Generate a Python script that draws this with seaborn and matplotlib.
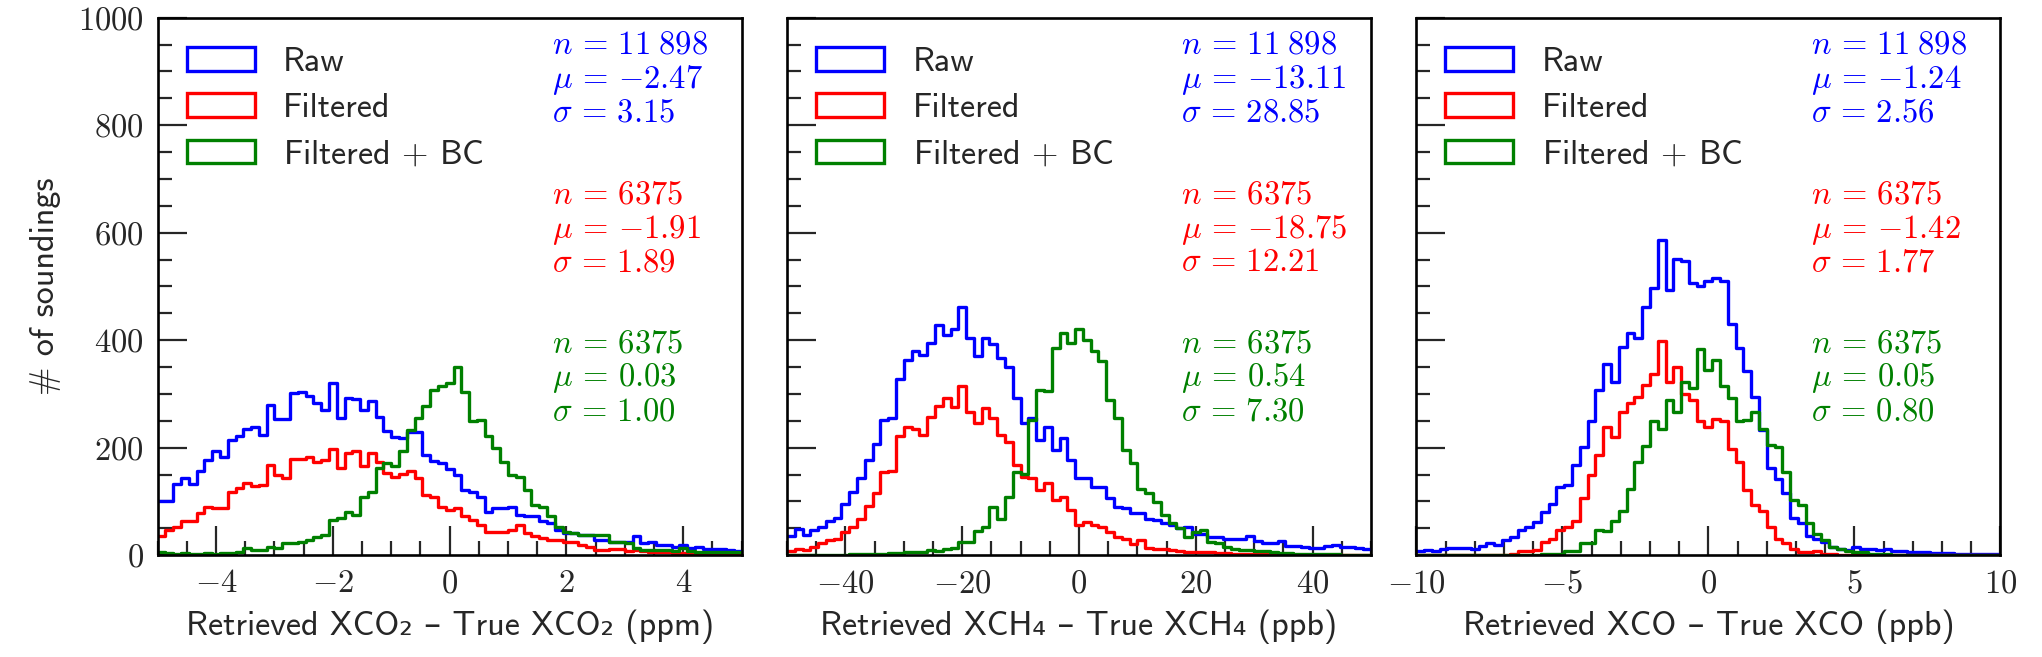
import numpy as np
import matplotlib
matplotlib.use("Agg")
import matplotlib.pyplot as plt
import seaborn as sns
from matplotlib.patches import Patch
from matplotlib.ticker import MultipleLocator, FuncFormatter

# ---------------- data (bin counts) ----------------
n_bins = 75
ranges = [(-5, 5), (-50, 50), (-10, 10)]
series_labels = ["Raw", "Filtered", "Filtered $+$ BC"]
series_colors = ["blue", "red", "green"]
xlabels = ["Retrieved XCO\u2082 \u2013 True XCO\u2082 (ppm)",
           "Retrieved XCH\u2084 \u2013 True XCH\u2084 (ppb)",
           "Retrieved XCO \u2013 True XCO (ppb)"]

xco2_raw = [100, 100, 133, 143, 133, 156, 177, 193, 183, 214, 222, 234, 239, 224, 280,
            253, 253, 302, 304, 296, 284, 271, 320, 255, 293, 291, 270, 286, 258, 231,
            219, 218, 230, 230, 187, 176, 171, 160, 149, 121, 118, 109, 81, 87, 87,
            90, 75, 72, 72, 63, 59, 47, 41, 41, 38, 38, 29, 29, 25, 25,
            25, 35, 22, 24, 19, 19, 16, 19, 13, 15, 11, 11, 11, 9, 7]
xco2_filt = [35, 47, 53, 63, 63, 78, 90, 87, 87, 118, 125, 134, 128, 131, 168,
             149, 143, 179, 179, 183, 174, 177, 197, 162, 190, 193, 165, 190, 174, 153,
             146, 151, 156, 143, 112, 109, 90, 84, 87, 72, 66, 56, 44, 44, 44,
             47, 56, 41, 35, 32, 29, 29, 25, 25, 19, 16, 10, 10, 11, 11,
             7, 10, 7, 6, 5, 5, 4, 4, 3, 3, 3, 2, 2, 2, 2]
xco2_bc = [5, 4, 3, 4, 2, 2, 4, 3, 4, 4, 5, 13, 9, 9, 16,
           13, 22, 22, 24, 29, 33, 38, 66, 70, 81, 75, 109, 118, 162, 171,
           165, 193, 233, 255, 277, 308, 315, 321, 351, 304, 249, 252, 221, 199, 174,
           149, 146, 121, 94, 90, 72, 53, 44, 41, 38, 38, 38, 38, 25, 24,
           22, 13, 10, 10, 10, 10, 7, 13, 7, 6, 6, 5, 5, 5, 5]

xch4_raw = [35, 48, 37, 47, 53, 63, 70, 96, 118, 144, 177, 207, 252, 256, 328,
            363, 379, 373, 395, 429, 410, 420, 462, 404, 370, 404, 392, 367, 351, 292,
            246, 255, 215, 239, 196, 218, 177, 143, 143, 127, 127, 106, 90, 87, 78,
            79, 68, 65, 59, 56, 50, 52, 40, 40, 34, 34, 31, 31, 31, 35,
            27, 22, 22, 27, 17, 17, 16, 14, 14, 17, 19, 16, 16, 14, 12]
xch4_filt = [7, 11, 10, 16, 23, 29, 31, 44, 53, 67, 91, 115, 154, 157, 221,
             239, 234, 223, 258, 277, 292, 276, 314, 267, 246, 274, 255, 224, 211, 168,
             146, 143, 121, 134, 103, 109, 84, 56, 62, 56, 53, 44, 34, 31, 21,
             28, 14, 12, 11, 9, 7, 6, 6, 5, 5, 4, 4, 3, 3, 3,
             2, 2, 2, 2, 2, 1, 1, 1, 1, 1, 1, 1, 1, 1, 1]
xch4_bc = [1, 1, 1, 1, 1, 1, 1, 1, 2, 3, 2, 2, 3, 4, 4,
           5, 6, 6, 9, 7, 11, 14, 25, 25, 45, 52, 89, 67, 108, 155,
           151, 252, 308, 305, 386, 414, 395, 421, 401, 379, 361, 289, 255, 196, 171,
           124, 115, 99, 75, 59, 50, 34, 44, 47, 25, 22, 16, 12, 9, 9,
           8, 8, 5, 4, 4, 3, 3, 2, 2, 2, 2, 1, 1, 1, 1]

xco_raw = [7, 9, 7, 11, 14, 14, 14, 11, 17, 22, 19, 28, 34, 47, 53,
           62, 81, 96, 127, 131, 167, 202, 249, 308, 356, 323, 387, 414, 404, 461,
           498, 586, 494, 552, 547, 507, 501, 510, 515, 510, 430, 386, 343, 294, 233,
           162, 142, 115, 70, 59, 36, 31, 25, 16, 11, 9, 16, 12, 11, 9,
           11, 7, 7, 6, 5, 5, 4, 4, 4, 3, 3, 3, 3, 3, 3]
xco_filt = [0, 0, 0, 0, 0, 0, 0, 0, 0, 1, 1, 1, 2, 7, 7,
            10, 25, 31, 47, 53, 63, 106, 149, 187, 239, 219, 266, 283, 294, 317,
            337, 399, 323, 351, 299, 289, 249, 239, 254, 249, 198, 173, 121, 93, 82,
            53, 31, 22, 12, 5, 5, 7, 3, 2, 1, 1, 0, 0, 0, 0,
            0, 0, 0, 0, 0, 0, 0, 0, 0, 0, 0, 0, 0, 0, 0]
xco_bc = [0, 0, 0, 0, 0, 0, 0, 0, 0, 0, 0, 0, 0, 0, 0,
          1, 2, 3, 3, 7, 7, 22, 22, 47, 45, 63, 82, 124, 174, 203,
          250, 235, 289, 267, 323, 311, 384, 345, 364, 314, 292, 250, 252, 267, 235,
          205, 202, 155, 103, 93, 59, 40, 28, 16, 11, 7, 6, 5, 3, 2,
          2, 1, 0, 0, 0, 0, 0, 0, 0, 0, 0, 0, 0, 0, 0]

counts = [[xco2_raw, xco2_filt, xco2_bc],
          [xch4_raw, xch4_filt, xch4_bc],
          [xco_raw, xco_filt, xco_bc]]

stat_n = [["11\\;898", "6375", "6375"]] * 3
stat_mu = [["-2.47", "-1.91", "0.03"],
           ["-13.11", "-18.75", "0.54"],
           ["-1.24", "-1.42", "0.05"]]
stat_sigma = [["3.15", "1.89", "1.00"],
              ["28.85", "12.21", "7.30"],
              ["2.56", "1.77", "0.80"]]

major_x = [2, 20, 5]
minor_x = [0.5, 5, 1]

# ---------------- style ----------------
sns.set_style("ticks")
plt.rcParams.update({
    "mathtext.fontset": "cm",
    "axes.linewidth": 1.9,
    "axes.edgecolor": "black",
})
plt.rcParams["font.family"] = ["cmss10", "DejaVu Sans"]

FS_TXT = 24.5
FS_MATH = 23.5
LW = 2.4

fig, axes = plt.subplots(1, 3, sharey=True, figsize=(20.42, 6.57), dpi=100)
fig.subplots_adjust(left=0.0772, right=0.9796, bottom=0.155, top=0.973, wspace=0.0776)

math_fmt = FuncFormatter(lambda v, p: f"${v:g}$")

stat_base = [0.9330, 0.6540, 0.3770]
stat_step = 0.0630

for i, ax in enumerate(axes):
    lo, hi = ranges[i]
    edges = np.linspace(lo, hi, n_bins + 1)
    centers = 0.5 * (edges[:-1] + edges[1:])
    for j in range(3):
        c = np.asarray(counts[i][j], dtype=float)
        assert len(c) == n_bins
        sns.histplot(x=centers, weights=c, bins=n_bins, binrange=(lo, hi),
                     element="step", fill=False,
                     color=series_colors[j], linewidth=LW, ax=ax)
    ax.set_xlim(lo, hi)
    ax.set_ylim(0, 1000)
    ax.xaxis.set_major_locator(MultipleLocator(major_x[i]))
    ax.xaxis.set_minor_locator(MultipleLocator(minor_x[i]))
    ax.yaxis.set_major_locator(MultipleLocator(200))
    ax.yaxis.set_minor_locator(MultipleLocator(50))
    ax.xaxis.set_major_formatter(math_fmt)
    ax.yaxis.set_major_formatter(math_fmt)
    ax.tick_params(which="both", direction="in", top=False, right=False,
                   left=True, bottom=True, labelsize=FS_MATH, width=1.6, pad=10)
    ax.tick_params(which="major", length=21)
    ax.tick_params(which="minor", length=10)
    ax.set_xlabel(xlabels[i], fontsize=FS_TXT, labelpad=8)
    ax.set_ylabel("")
    for s in ax.spines.values():
        s.set_visible(True)
        s.set_linewidth(1.9)

    handles = [Patch(facecolor="none", edgecolor=col, linewidth=LW) for col in series_colors]
    ax.legend(handles, series_labels, loc="upper left", frameon=False, fontsize=FS_TXT,
              handlelength=2.0, handleheight=0.69, handletextpad=0.84,
              labelspacing=0.45, borderaxespad=0.45, borderpad=0.4)

    for j in range(3):
        lines = [f"$n\\,=\\,{stat_n[i][j]}$",
                 f"$\\mu\\,=\\,{{{stat_mu[i][j]}}}$",
                 f"$\\sigma\\,=\\,{stat_sigma[i][j]}$"]
        for k, t in enumerate(lines):
            ax.text(0.675, stat_base[j] - k * stat_step, t, transform=ax.transAxes,
                    color=series_colors[j], fontsize=FS_MATH, ha="left", va="baseline")

axes[0].set_ylabel("# of soundings", fontsize=FS_TXT, labelpad=12)
for ax in axes[1:]:
    ax.tick_params(labelleft=False)

fig.savefig("out.png", dpi=100)
